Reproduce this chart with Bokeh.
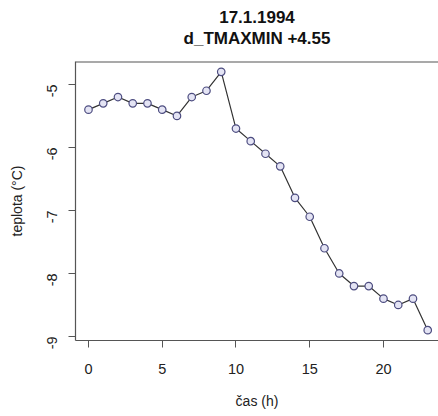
import math
from bokeh.plotting import figure
from bokeh.models import Title, Range1d, FixedTicker, Span
from bokeh.embed import file_html
from bokeh.resources import INLINE

hours = list(range(24))
temps = [-5.4, -5.3, -5.2, -5.3, -5.3, -5.4, -5.5, -5.2, -5.1, -4.8,
         -5.7, -5.9, -6.1, -6.3, -6.8, -7.1, -7.6, -8.0, -8.2, -8.2,
         -8.4, -8.5, -8.4, -8.9]
x_ticks = [0, 5, 10, 15, 20]
y_ticks = [-9, -8, -7, -6, -5]
y_tick_labels = ["-9", "-8", "-7", "-6", "-5"]
title_line1 = "17.1.1994"
title_line2 = "d_TMAXMIN +4.55"
x_label = "čas (h)"
y_label = "teplota (°C)"

FONT = "Liberation Sans"
BOX = "#555555"

y_rng = Range1d(-9.064, -4.636)
p = figure(width=438, height=416, output_backend="svg", toolbar_location=None,
           x_range=Range1d(-0.88, 23.73), y_range=y_rng,
           min_border_left=75, min_border_right=0, min_border_top=0,
           min_border_bottom=76, background_fill_color="white",
           border_fill_color="white")

# two-line bold title: p.title is the outer line; a blank spacer sits next to the frame
p.title.text = title_line1
p.title.align = "center"
p.title.text_font = FONT
p.title.text_font_size = "17px"
p.title.text_font_style = "bold"
p.title.text_color = "#111111"
p.title.standoff = 16
p.add_layout(Title(text=" ", align="center", text_font=FONT,
                   text_font_size="17px", standoff=-3), "above")
p.add_layout(Title(text=title_line2, align="center", text_font=FONT,
                   text_font_size="17px", text_font_style="bold",
                   text_color="#111111", standoff=-8), "above")

p.xgrid.visible = False
p.ygrid.visible = False
# box: left/bottom come from the axes, top edge drawn as a span (right edge is cut off)
p.outline_line_color = None
p.add_layout(Span(location=y_rng.end, dimension="width", line_color=BOX,
                  line_width=2))

for ax in (p.xaxis, p.yaxis):
    ax.axis_line_color = BOX
    ax.axis_line_width = 1.2
    ax.major_tick_line_color = BOX
    ax.major_tick_in = 0
    ax.major_tick_out = 7
    ax.minor_tick_line_color = None
    ax.major_label_text_font = FONT
    ax.major_label_text_font_size = "14.5px"
    ax.major_label_text_color = "#222222"
    ax.axis_label_text_font = FONT
    ax.axis_label_text_font_size = "14px"
    ax.axis_label_text_font_style = "normal"
    ax.axis_label_text_color = "#222222"

p.xaxis.ticker = FixedTicker(ticks=x_ticks)
p.yaxis.ticker = FixedTicker(ticks=y_ticks)
p.yaxis.major_label_overrides = dict(zip(y_ticks, y_tick_labels))
p.xaxis.axis_label = x_label
p.yaxis.axis_label = y_label
p.yaxis.major_label_orientation = math.pi / 2
p.xaxis.major_label_standoff = 16
p.yaxis.major_label_standoff = 16
p.xaxis.axis_label_standoff = 16
p.yaxis.axis_label_standoff = 15

p.line(hours, temps, line_color="#333333", line_width=1.2)
p.scatter(hours, temps, size=7.5, marker="circle", line_color="#4d4d80",
          fill_color="#e4e4f4", line_width=1.2)

open("out.html", "w").write(file_html(p, INLINE))
